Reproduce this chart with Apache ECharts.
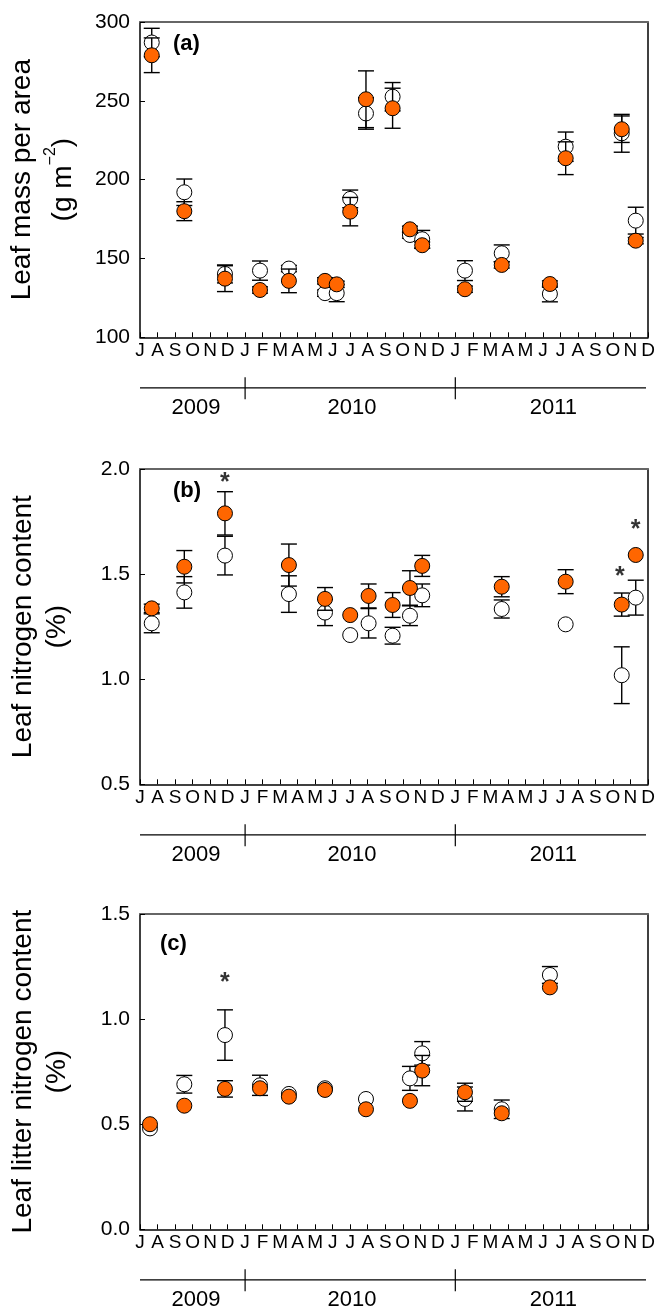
<!DOCTYPE html>
<html>
<head>
<meta charset="utf-8">
<script src="https://cdn.jsdelivr.net/npm/echarts@6/dist/echarts.min.js"></script>
<style>
  html, body { margin: 0; padding: 0; background: #fff; }
  #chart { width: 656px; height: 1312px; }
</style>
</head>
<body>
<div id="chart"></div>
<script>
// Month axis: 0 = July 2009, 29 = December 2011
const monthLabels = ['J','A','S','O','N','D',
  'J','F','M','A','M','J','J','A','S','O','N','D',
  'J','F','M','A','M','J','J','A','S','O','N','D'];
const yearLabels = ['2009', '2010', '2011'];
const yearCentres = [3.2, 12.1, 23.6];
const yearStarts = [6, 18];

// (a) Leaf mass per area (g m-2): sampling month, open / filled means and error
const lmaMonths = [0.67, 2.53, 4.85, 6.85, 8.5, 10.56, 11.23, 12.0, 12.9, 14.42, 15.41, 16.11, 18.55, 20.65, 23.4, 24.3, 27.5, 28.3];
const lmaOpen = [287, 192, 140.2, 142.3, 143.6, 128, 128, 187.8, 242, 252.6, 164.9, 162.2, 142.3, 153.3, 127.5, 220.9, 229.4, 174];
const lmaOpenErr = [9, 8.4, 5.7, 6.1, 2, 2, 5.4, 5.6, 10, 9, 2, 5.6, 6.3, 5.3, 5, 9.3, 12, 8.5];
const lmaFilled = [278.9, 180, 137.2, 130, 135.8, 135.8, 133.6, 179.7, 251, 245.3, 168.5, 158.4, 130.5, 145.9, 133.8, 213.6, 232, 161.3];
const lmaFilledErr = [11, 6, 8.2, 2, 7.5, 2, 2, 9, 18, 12.7, 2, 2, 2, 2, 2, 10.4, 8.4, 2];
const lmaStars = [];

// (b) Leaf nitrogen content (%)
const nMonths = [0.67, 2.53, 4.85, 8.5, 10.56, 12.0, 13.05, 14.42, 15.41, 16.11, 20.65, 24.3, 27.5, 28.3];
const nOpen = [1.266, 1.413, 1.588, 1.405, 1.317, 1.21, 1.266, 1.207, 1.302, 1.399, 1.334, 1.261, 1.019, 1.388];
const nOpenErr = [0.045, 0.075, 0.092, 0.087, 0.062, 0, 0.07, 0.04, 0.047, 0.054, 0.043, 0, 0.135, 0.083];
const nFilled = [1.337, 1.535, 1.789, 1.543, 1.382, 1.305, 1.396, 1.353, 1.434, 1.539, 1.44, 1.464, 1.355, 1.591];
const nFilledErr = [0.02, 0.077, 0.103, 0.1, 0.054, 0, 0.057, 0.059, 0.082, 0.05, 0.048, 0.057, 0.055, 0];
const nStars = [[4.85, 1.935], [27.4, 1.488], [28.3, 1.71]];

// (c) Leaf litter nitrogen content (%)
const litMonths = [0.57, 2.53, 4.85, 6.85, 8.5, 10.56, 12.9, 15.41, 16.11, 18.55, 20.65, 23.4];
const litOpen = [0.48, 0.69, 0.924, 0.685, 0.644, 0.671, 0.62, 0.718, 0.837, 0.62, 0.571, 1.21];
const litOpenErr = [0, 0.042, 0.12, 0.048, 0, 0, 0, 0.057, 0.056, 0.057, 0.044, 0.04];
const litFilled = [0.5, 0.588, 0.668, 0.671, 0.631, 0.663, 0.571, 0.611, 0.755, 0.652, 0.552, 1.151];
const litFilledErr = [0, 0, 0.039, 0, 0, 0, 0, 0, 0.072, 0.043, 0, 0];
const litStars = [[4.85, 1.17]];

const FONT = '"Liberation Sans", Arial, Helvetica, sans-serif';
const ORANGE = '#FF6600';

const panels = [
  { tag: '(a)', tagPos: [173, 33], top: 22,
    name: 'Leaf mass per area\n(g m{sup|\u22122})', nameGap: 55, nameLH: 41,
    yMin: 100, yMax: 300, yStep: 50, dec: 0,
    months: lmaMonths, open: lmaOpen, openErr: lmaOpenErr,
    filled: lmaFilled, filledErr: lmaFilledErr, stars: lmaStars },
  { tag: '(b)', tagPos: [173, 480], top: 469,
    name: 'Leaf nitrogen content\n(%)', nameGap: 66, nameLH: 34,
    yMin: 0.5, yMax: 2.0, yStep: 0.5, dec: 1,
    months: nMonths, open: nOpen, openErr: nOpenErr,
    filled: nFilled, filledErr: nFilledErr, stars: nStars },
  { tag: '(c)', tagPos: [160, 933], top: 914,
    name: 'Leaf litter nitrogen content\n(%)', nameGap: 66, nameLH: 34,
    yMin: 0, yMax: 1.5, yStep: 0.5, dec: 1,
    months: litMonths, open: litOpen, openErr: litOpenErr,
    filled: litFilled, filledErr: litFilledErr, stars: litStars }
];

const PLOT_H = 315.3;
const MARKER = 15;

// Vertical error bar with caps
function errorBar(params, api) {
  const x = api.value(0), y = api.value(1), e = api.value(2);
  if (!(e > 0)) return null;
  const hi = api.coord([x, y + e]);
  const lo = api.coord([x, y - e]);
  const hw = 8;
  const style = { stroke: '#000', lineWidth: 1.4, fill: null };
  return {
    type: 'group',
    children: [
      { type: 'line', shape: { x1: hi[0], y1: hi[1], x2: lo[0], y2: lo[1] }, style },
      { type: 'line', shape: { x1: hi[0] - hw, y1: hi[1], x2: hi[0] + hw, y2: hi[1] }, style },
      { type: 'line', shape: { x1: lo[0] - hw, y1: lo[1], x2: lo[0] + hw, y2: lo[1] }, style }
    ]
  };
}

const grid = [], xAxis = [], yAxis = [], series = [];

panels.forEach((p, i) => {
  grid.push({ left: 140, right: 8, top: p.top, height: PLOT_H, outerBoundsMode: 'none', containLabel: false });

  // month axis
  xAxis.push({
    gridIndex: i, type: 'value', position: 'bottom', min: 0, max: 29, interval: 1,
    axisLine: { show: true, onZero: false, lineStyle: { color: '#000', width: 1.5 } },
    axisTick: { show: true, inside: true, length: 5, lineStyle: { color: '#000', width: 1 } },
    axisLabel: { show: true, showMinLabel: true, showMaxLabel: true, margin: 4,
      fontSize: 19, fontFamily: FONT, color: '#000',
      formatter: v => monthLabels[Math.round(v)] || '' },
    splitLine: { show: false }
  });
  // upper frame
  xAxis.push({
    gridIndex: i, type: 'value', position: 'top', min: 0, max: 29,
    axisLine: { show: true, onZero: false, lineStyle: { color: '#666', width: 2 } },
    axisTick: { show: false }, axisLabel: { show: false }, splitLine: { show: false }
  });

  const rich = { sup: { fontSize: 16, fontFamily: FONT, color: '#000', verticalAlign: 'top', lineHeight: 30 } };
  yAxis.push({
    gridIndex: i, type: 'value', position: 'left', min: p.yMin, max: p.yMax, interval: p.yStep,
    name: p.name, nameLocation: 'middle', nameRotate: 90, nameGap: p.nameGap,
    nameTextStyle: { fontSize: 28, fontFamily: FONT, color: '#000', lineHeight: p.nameLH, rich },
    axisLine: { show: true, onZero: false, lineStyle: { color: '#000', width: 1.5 } },
    axisTick: { show: true, inside: true, length: 5, lineStyle: { color: '#000', width: 1 } },
    axisLabel: { show: true, showMinLabel: true, showMaxLabel: true, margin: 10,
      fontSize: 21, fontFamily: FONT, color: '#000',
      formatter: v => v.toFixed(p.dec) },
    splitLine: { show: false }
  });
  // right frame
  yAxis.push({
    gridIndex: i, type: 'value', position: 'right', min: p.yMin, max: p.yMax,
    axisLine: { show: true, onZero: false, lineStyle: { color: '#000', width: 1.5 } },
    axisTick: { show: false }, axisLabel: { show: false }, splitLine: { show: false }
  });

  const xi = 2 * i, yi = 2 * i;
  const openErrData = p.months.map((m, k) => [m, p.open[k], p.openErr[k]]);
  const filledErrData = p.months.map((m, k) => [m, p.filled[k], p.filledErr[k]]);

  series.push({
    type: 'custom', name: 'open error', xAxisIndex: xi, yAxisIndex: yi, z: 2,
    renderItem: errorBar, encode: { x: 0, y: 1 }, data: openErrData, silent: true
  });
  series.push({
    type: 'scatter', name: 'open', xAxisIndex: xi, yAxisIndex: yi, z: 3,
    symbol: 'circle', symbolSize: MARKER,
    itemStyle: { color: '#fff', borderColor: '#000', borderWidth: 1, opacity: 1 },
    data: p.months.map((m, k) => [m, p.open[k]]), silent: true
  });
  series.push({
    type: 'custom', name: 'filled error', xAxisIndex: xi, yAxisIndex: yi, z: 4,
    renderItem: errorBar, encode: { x: 0, y: 1 }, data: filledErrData, silent: true
  });
  series.push({
    type: 'scatter', name: 'filled', xAxisIndex: xi, yAxisIndex: yi, z: 5,
    symbol: 'circle', symbolSize: MARKER,
    itemStyle: { color: ORANGE, borderColor: '#000', borderWidth: 1, opacity: 1 },
    data: p.months.map((m, k) => [m, p.filled[k]]), silent: true
  });
  if (p.stars.length) {
    series.push({
      type: 'scatter', name: 'significance', xAxisIndex: xi, yAxisIndex: yi, z: 6,
      symbol: 'circle', symbolSize: 2,
      itemStyle: { color: 'rgba(0,0,0,0)', borderWidth: 0 },
      label: { show: true, position: 'inside', formatter: '*', offset: [0, 6],
        fontSize: 25, fontWeight: 'bold', fontFamily: FONT, color: '#000' },
      labelLayout: { hideOverlap: false },
      data: p.stars, silent: true
    });
  }
});

const chart = echarts.init(document.getElementById('chart'), null, { renderer: 'canvas' });
chart.setOption({
  animation: false,
  backgroundColor: '#fff',
  grid, xAxis, yAxis, series
});

// Year brackets under each month axis and panel tags
const graphics = [];
panels.forEach((p, i) => {
  const px = v => chart.convertToPixel({ xAxisIndex: 2 * i }, v);
  const axisY = chart.convertToPixel({ yAxisIndex: 2 * i }, p.yMin);
  const lineY = axisY + 50.5;
  const lineStyle = { stroke: '#000', lineWidth: 1.2 };
  graphics.push({ type: 'line', silent: true,
    shape: { x1: px(0), y1: lineY, x2: px(29) - 2, y2: lineY }, style: lineStyle });
  yearStarts.forEach(v => graphics.push({ type: 'line', silent: true,
    shape: { x1: px(v), y1: lineY - 10.5, x2: px(v), y2: lineY + 11.5 }, style: lineStyle }));
  yearCentres.forEach((v, k) => graphics.push({ type: 'text', silent: true,
    x: px(v), y: lineY + 9,
    style: { text: yearLabels[k], font: '22px ' + FONT, fill: '#000',
      align: 'center', verticalAlign: 'top', textAlign: 'center', textVerticalAlign: 'top' } }));
  graphics.push({ type: 'text', silent: true, x: p.tagPos[0], y: p.tagPos[1],
    style: { text: p.tag, font: 'bold 22px ' + FONT, fill: '#000',
      align: 'left', verticalAlign: 'top', textAlign: 'left', textVerticalAlign: 'top' } });
});
chart.setOption({ graphic: { elements: graphics } });
</script>
</body>
</html>
